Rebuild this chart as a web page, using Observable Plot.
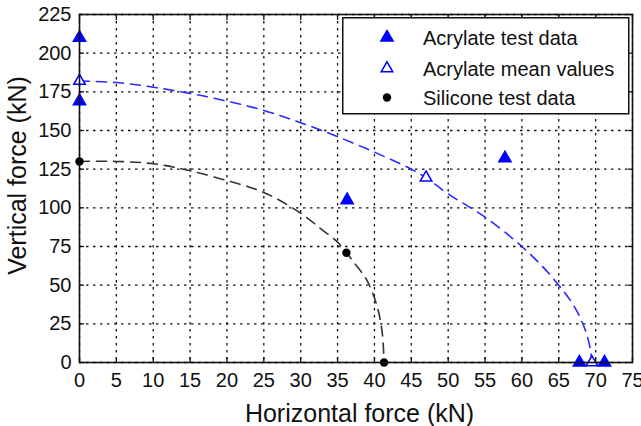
<!DOCTYPE html>
<html>
<head>
<meta charset="utf-8">
<script src="https://cdn.jsdelivr.net/npm/d3@7"></script>
<script src="https://cdn.jsdelivr.net/npm/@observablehq/plot@0.6"></script>
<style>
  html, body { margin: 0; padding: 0; background: white; }
  #wrap { position: relative; width: 641px; height: 426px; font-family: "Liberation Sans", Arial, sans-serif; }
  #legend { position: absolute; left: 342px; top: 17px; }
</style>
</head>
<body>
<div id="wrap"></div>
<script>
// ---- data ----
const xTicks = [0,5,10,15,20,25,30,35,40,45,50,55,60,65,70,75];
const yTicks = [0,25,50,75,100,125,150,175,200,225];
const xTitle = "Horizontal force (kN)";
const yTitle = "Vertical force (kN)";

// Acrylate test data (filled triangles)
const acrTestX = [0, 0, 36.3, 57.7, 67.8, 71.2];
const acrTestY = [210, 169, 105, 132, 0, 0];

// Acrylate mean values (open triangles)
const acrMeanX = [0, 47, 69.5];
const acrMeanY = [182, 119.5, 0];

// Silicone test data (circles)
const silX = [0, 36.2, 41.3];
const silY = [130, 71, 0];

// Dashed curves
const acrCurveX = [0, 5, 10, 15, 20, 25, 30, 35, 40, 45, 47, 50, 55, 60, 63, 65, 66, 67, 68, 68.8, 69.3, 69.5];
const acrCurveY = [182, 181, 178, 174, 169, 163, 155, 146, 136, 125, 119.5, 109, 94, 75, 61, 50, 44, 37, 28, 18, 8, 0];

const silCurveX = [0, 5, 10, 15, 20, 23.6, 26.3, 30, 32.7, 35, 36.2, 37.2, 39, 40.4, 41.07, 41.3];
const silCurveY = [130, 130, 128.5, 124, 117.6, 112.5, 107, 96.5, 86.6, 77.8, 71, 64.8, 53, 35.7, 18.7, 0];

const legendLabels = ["Acrylate test data", "Acrylate mean values", "Silicone test data"];

const zip = (xs, ys) => xs.map((x, i) => ({x, y: ys[i]}));
const acrTest = zip(acrTestX, acrTestY);
const acrMean = zip(acrMeanX, acrMeanY);
const sil = zip(silX, silY);
const acrCurve = zip(acrCurveX, acrCurveY);
const silCurve = zip(silCurveX, silCurveY);

const blank = () => "";

const chart = Plot.plot({
  width: 641,
  height: 426,
  marginLeft: 79,
  marginRight: 9,
  marginTop: 14,
  marginBottom: 64,
  x: {domain: [0, 75]},
  y: {domain: [0, 225]},
  style: {fontFamily: "'Liberation Sans', Arial, sans-serif", fontSize: "20px", background: "white", color: "#111", overflow: "visible"},
  marks: [
    Plot.gridX(xTicks, {stroke: "#111", strokeOpacity: 1, strokeWidth: 1.3, strokeDasharray: "2.5,4.5"}),
    Plot.gridY(yTicks, {stroke: "#111", strokeOpacity: 1, strokeWidth: 1.3, strokeDasharray: "2.5,4.5"}),
    Plot.line(acrCurve, {x: "x", y: "y", stroke: "#2a2aff", strokeWidth: 1.6, strokeDasharray: "10,7", curve: "catmull-rom"}),
    Plot.line(silCurve, {x: "x", y: "y", stroke: "#333", strokeWidth: 1.6, strokeDasharray: "10,7", curve: "catmull-rom"}),
    Plot.dot(acrTest, {x: "x", y: "y", symbol: "triangle", r: 5.5, fill: "#0000ff", stroke: "none"}),
    Plot.dot(acrMean, {x: "x", y: "y", symbol: "triangle", r: 4.3, fill: "white", stroke: "#0000ff", strokeWidth: 1.5}),
    Plot.dot(sil, {x: "x", y: "y", symbol: "circle", r: 4.2, fill: "black", stroke: "none"}),
    // tick labels
    Plot.axisX(xTicks, {anchor: "bottom", tickSize: 0, tickPadding: 10, label: null}),
    Plot.axisY(yTicks, {anchor: "left", tickSize: 0, tickPadding: 8, label: null}),
    // inward tick marks on all sides
    Plot.axisX(xTicks, {anchor: "bottom", tickSize: -5, tickFormat: blank, label: null, strokeWidth: 1.3}),
    Plot.axisX(xTicks, {anchor: "top", tickSize: -5, tickFormat: blank, label: null, strokeWidth: 1.3}),
    Plot.axisY(yTicks, {anchor: "left", tickSize: -5, tickFormat: blank, label: null, strokeWidth: 1.3}),
    Plot.axisY(yTicks, {anchor: "right", tickSize: -5, tickFormat: blank, label: null, strokeWidth: 1.3}),
    // axis titles
    Plot.text([xTitle], {frameAnchor: "bottom", text: d => d, textAnchor: "middle", lineAnchor: "middle", dx: 3.5, dy: 51, fontSize: 25, fill: "#111"}),
    Plot.text([yTitle], {frameAnchor: "left", text: d => d, textAnchor: "middle", lineAnchor: "middle", rotate: -90, dx: -62, dy: -13, fontSize: 25, fill: "#111"}),
    Plot.frame({stroke: "#111", strokeWidth: 1.6})
  ]
});

const wrap = document.getElementById("wrap");
wrap.appendChild(chart);

// legend overlay
const lw = 286, lh = 96;
const leg = d3.select(wrap).append("svg")
  .attr("id", "legend")
  .attr("width", lw + 2).attr("height", lh + 2)
  .style("font-family", "'Liberation Sans', Arial, sans-serif");
leg.append("rect").attr("x", 0.75).attr("y", 0.75).attr("width", lw).attr("height", lh)
  .attr("fill", "white").attr("stroke", "#111").attr("stroke-width", 1.5);
const rowY = [20.5, 51.5, 80.5];
const tri = d3.symbol(d3.symbolTriangle);
leg.append("path").attr("d", tri.size(Math.PI * 5.5 * 5.5)()).attr("transform", `translate(45,${rowY[0]})`).attr("fill", "#0000ff");
leg.append("path").attr("d", tri.size(Math.PI * 4.3 * 4.3)()).attr("transform", `translate(45,${rowY[1]})`).attr("fill", "white").attr("stroke", "#0000ff").attr("stroke-width", 1.5);
leg.append("circle").attr("cx", 45).attr("cy", rowY[2]).attr("r", 4.2).attr("fill", "black");
legendLabels.forEach((t, i) => {
  leg.append("text").attr("x", 81).attr("y", rowY[i]).attr("dy", "0.36em")
    .attr("font-size", 20).attr("fill", "#111").text(t);
});
</script>
</body>
</html>
